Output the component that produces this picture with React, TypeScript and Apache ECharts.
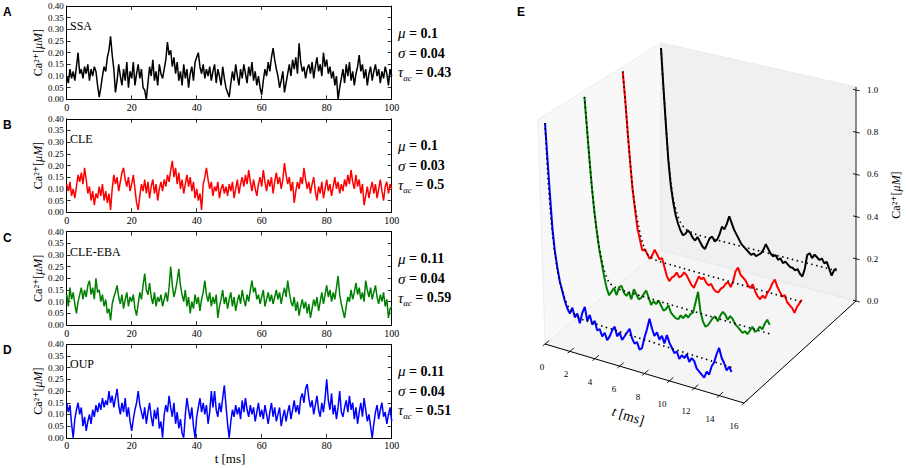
import React, { useEffect, useRef } from "react";
import * as echarts from "echarts";

// ---------- Left panels (A–D): Ca2+ traces, t = 0..100 ms, step 0.5 ms ----------
const T_STEP = 0.5;
const ssa = [
  0.10,0.07,0.13,0.09,0.12,0.08,0.14,0.20,0.11,0.13,
  0.09,0.14,0.11,0.15,0.08,0.13,0.10,0.14,0.12,0.06,
  0.01,0.05,0.10,0.14,0.12,0.18,0.21,0.27,0.19,0.13,
  0.03,0.08,0.15,0.10,0.06,0.13,0.08,0.16,0.05,0.12,
  0.09,0.16,0.06,0.11,0.15,0.09,0.13,0.05,0.04,0.00,
  0.07,0.14,0.10,0.17,0.08,0.12,0.06,0.15,0.11,0.09,
  0.13,0.17,0.245,0.19,0.21,0.14,0.18,0.11,0.16,0.08,
  0.12,0.06,0.15,0.09,0.13,0.05,0.11,0.14,0.08,0.16,
  0.18,0.20,0.14,0.11,0.15,0.09,0.13,0.10,0.14,0.08,
  0.12,0.15,0.07,0.13,0.10,0.06,0.14,0.09,0.05,0.03,
  0.01,0.07,0.12,0.08,0.15,0.10,0.06,0.13,0.09,0.15,
  0.11,0.07,0.14,0.10,0.16,0.08,0.12,0.06,0.10,0.05,
  0.02,0.08,0.13,0.10,0.16,0.12,0.18,0.22,0.17,0.13,
  0.10,0.05,0.08,0.12,0.03,0.07,0.11,0.15,0.10,0.17,
  0.13,0.18,0.11,0.24,0.16,0.12,0.14,0.09,0.13,0.15,
  0.11,0.16,0.09,0.14,0.18,0.12,0.15,0.10,0.20,0.14,
  0.17,0.11,0.14,0.09,0.12,0.06,0.10,0.00,0.05,0.09,
  0.13,0.07,0.15,0.10,0.16,0.08,0.12,0.06,0.11,0.14,
  0.19,0.12,0.15,0.09,0.13,0.06,0.11,0.14,0.08,0.12,
  0.15,0.10,0.13,0.07,0.12,0.09,0.14,0.11,0.06,0.13,
  0.10,
];
const cle = [
  0.12,0.09,0.13,0.07,0.10,0.06,0.11,0.16,0.13,0.17,
  0.12,0.19,0.14,0.08,0.11,0.05,0.09,0.03,0.08,0.06,
  0.11,0.07,0.12,0.05,0.09,0.04,0.08,0.01,0.10,0.16,
  0.12,0.15,0.09,0.13,0.17,0.19,0.14,0.11,0.15,0.09,
  0.12,0.16,0.10,0.04,0.01,0.07,0.12,0.09,0.14,0.08,
  0.13,0.06,0.11,0.14,0.08,0.12,0.05,0.10,0.13,0.09,
  0.14,0.11,0.16,0.13,0.18,0.22,0.15,0.19,0.12,0.17,
  0.10,0.14,0.08,0.12,0.16,0.11,0.15,0.09,0.13,0.06,
  0.10,0.05,0.08,0.01,0.12,0.15,0.19,0.14,0.10,0.13,
  0.07,0.11,0.09,0.13,0.06,0.10,0.12,0.08,0.11,0.07,
  0.12,0.09,0.13,0.06,0.10,0.14,0.08,0.12,0.15,0.11,
  0.16,0.12,0.18,0.13,0.09,0.14,0.10,0.07,0.12,0.15,
  0.11,0.18,0.13,0.09,0.14,0.11,0.15,0.08,0.13,0.17,
  0.12,0.15,0.10,0.14,0.21,0.16,0.12,0.15,0.09,0.13,
  0.04,0.09,0.13,0.10,0.15,0.12,0.19,0.14,0.10,0.13,
  0.08,0.12,0.15,0.09,0.05,0.11,0.08,0.13,0.06,0.10,
  0.14,0.09,0.12,0.07,0.11,0.15,0.10,0.13,0.08,0.12,
  0.09,0.14,0.11,0.16,0.12,0.18,0.13,0.10,0.16,0.11,
  0.14,0.08,0.12,0.03,0.07,0.11,0.06,0.10,0.13,0.08,
  0.12,0.06,0.10,0.14,0.09,0.05,0.11,0.13,0.08,0.12,
  0.10,
];
const cleEba = [
  0.13,0.08,0.16,0.11,0.14,0.09,0.05,0.10,0.13,0.16,
  0.11,0.15,0.12,0.17,0.19,0.13,0.16,0.11,0.20,0.14,
  0.15,0.10,0.13,0.08,0.11,0.05,0.07,0.02,0.09,0.12,
  0.14,0.17,0.12,0.09,0.13,0.07,0.11,0.14,0.08,0.12,
  0.10,0.13,0.07,0.04,0.09,0.14,0.11,0.17,0.22,0.15,
  0.13,0.18,0.12,0.09,0.14,0.08,0.12,0.10,0.13,0.08,
  0.11,0.14,0.10,0.16,0.25,0.17,0.12,0.15,0.19,0.24,
  0.17,0.13,0.10,0.15,0.08,0.12,0.05,0.10,0.07,0.13,
  0.09,0.12,0.06,0.11,0.14,0.19,0.13,0.10,0.14,0.08,
  0.12,0.09,0.13,0.03,0.08,0.11,0.15,0.09,0.12,0.07,
  0.11,0.14,0.08,0.12,0.06,0.10,0.13,0.09,0.15,0.11,
  0.08,0.13,0.10,0.15,0.19,0.14,0.16,0.11,0.13,0.09,
  0.12,0.15,0.08,0.11,0.14,0.10,0.13,0.09,0.12,0.15,
  0.11,0.14,0.09,0.13,0.16,0.12,0.19,0.14,0.10,0.08,
  0.12,0.06,0.10,0.04,0.08,0.11,0.07,0.10,0.05,0.09,
  0.03,0.07,0.11,0.08,0.12,0.06,0.10,0.14,0.09,0.13,
  0.17,0.12,0.15,0.10,0.14,0.11,0.16,0.21,0.13,0.09,
  0.06,0.03,0.08,0.12,0.10,0.15,0.11,0.14,0.18,0.13,
  0.16,0.11,0.14,0.10,0.19,0.15,0.12,0.16,0.11,0.14,
  0.17,0.12,0.09,0.13,0.10,0.14,0.08,0.11,0.03,0.07,
  0.08,
];
const oup = [
  0.15,0.11,0.14,0.06,0.00,0.08,0.12,0.15,0.10,0.13,
  0.05,0.09,0.03,0.07,0.10,0.06,0.12,0.09,0.14,0.11,
  0.15,0.12,0.17,0.13,0.16,0.14,0.20,0.15,0.18,0.13,
  0.17,0.21,0.14,0.10,0.15,0.11,0.17,0.09,0.13,0.07,
  0.03,0.08,0.12,0.15,0.20,0.14,0.11,0.08,0.13,0.06,
  0.11,0.15,0.09,0.05,0.12,0.08,0.13,0.04,0.07,0.00,
  0.10,0.14,0.11,0.18,0.13,0.09,0.15,0.06,0.11,0.04,
  0.08,0.02,0.00,0.10,0.17,0.12,0.08,0.13,0.05,0.00,
  0.09,0.13,0.17,0.11,0.15,0.10,0.14,0.06,0.11,0.20,
  0.13,0.20,0.12,0.09,0.15,0.11,0.17,0.225,0.14,0.06,
  0.00,0.07,0.12,0.09,0.14,0.10,0.13,0.08,0.16,0.11,
  0.17,0.12,0.09,0.14,0.10,0.13,0.07,0.11,0.15,0.09,
  0.12,0.08,0.14,0.10,0.06,0.11,0.15,0.09,0.13,0.07,
  0.10,0.13,0.05,0.09,0.12,0.07,0.11,0.14,0.08,0.12,
  0.16,0.11,0.14,0.10,0.17,0.19,0.15,0.21,0.23,0.17,
  0.13,0.16,0.10,0.14,0.18,0.12,0.09,0.15,0.11,0.17,
  0.25,0.16,0.12,0.19,0.10,0.14,0.08,0.13,0.20,0.11,
  0.09,0.13,0.16,0.11,0.18,0.12,0.15,0.08,0.13,0.06,
  0.11,0.15,0.09,0.17,0.12,0.07,0.10,0.05,0.00,0.06,
  0.11,0.14,0.08,0.12,0.15,0.09,0.11,0.06,0.10,0.13,
  0.07,
];

const panelLetters = ["A", "B", "C", "D"];
const modelNames = ["SSA", "CLE", "CLE-EBA", "OUP"];
const lineColors = ["#000000", "#ff0000", "#008000", "#0000ff"];
const muVals = ["0.1", "0.1", "0.11", "0.11"];
const sigmaVals = ["0.04", "0.03", "0.04", "0.04"];
const tauVals = ["0.43", "0.5", "0.59", "0.51"];
const leftSeries = [ssa, cle, cleEba, oup];

// ---------- Panel E: 3D view, t = 0..~15 ms, step 0.2 ms ----------
const T3_STEP = 0.2;
const blue3d = [
  1.00,0.84,0.68,0.53,0.43,0.36,0.30,0.26,0.22,0.19,
  0.17,0.20,0.16,0.18,0.14,0.19,0.22,0.16,0.19,0.15,
  0.17,0.13,0.14,0.11,0.13,0.10,0.12,0.15,0.17,0.13,
  0.15,0.12,0.14,0.16,0.18,0.14,0.12,0.13,0.10,0.11,
  0.16,0.20,0.25,0.21,0.18,0.20,0.17,0.19,0.16,0.20,
  0.17,0.15,0.13,0.14,0.11,0.13,0.12,0.14,0.11,0.13,
  0.12,0.09,0.08,0.07,0.06,0.09,0.08,0.12,0.14,0.18,
  0.21,0.17,0.15,0.12,0.14,0.12,
];
const green3d = [
  1.00,0.86,0.72,0.59,0.48,0.39,0.31,0.25,0.19,0.14,
  0.11,0.13,0.15,0.12,0.16,0.17,0.14,0.13,0.15,0.12,
  0.17,0.15,0.13,0.14,0.16,0.18,0.15,0.12,0.14,0.13,
  0.15,0.13,0.11,0.12,0.14,0.11,0.10,0.09,0.09,0.11,
  0.10,0.12,0.11,0.13,0.14,0.19,0.24,0.15,0.11,0.09,
  0.10,0.12,0.14,0.15,0.13,0.16,0.18,0.17,0.15,0.17,
  0.16,0.14,0.13,0.12,0.11,0.12,0.11,0.13,0.15,0.13,
  0.14,0.16,0.15,0.18,0.20,0.18,
];
const red3d = [
  1.00,0.87,0.72,0.58,0.45,0.36,0.27,0.22,0.17,0.18,
  0.16,0.14,0.16,0.19,0.17,0.15,0.16,0.12,0.08,0.06,
  0.08,0.09,0.11,0.09,0.10,0.12,0.11,0.09,0.07,0.06,
  0.09,0.12,0.11,0.12,0.10,0.09,0.10,0.08,0.07,0.07,
  0.09,0.10,0.12,0.13,0.11,0.14,0.19,0.21,0.18,0.17,
  0.16,0.14,0.13,0.15,0.12,0.10,0.09,0.11,0.10,0.13,
  0.15,0.18,0.20,0.17,0.15,0.13,0.14,0.11,0.10,0.09,
  0.07,0.10,0.12,0.14,
];
const black3d = [
  0.99,0.80,0.62,0.45,0.33,0.25,0.19,0.15,0.12,0.10,
  0.11,0.13,0.12,0.10,0.09,0.11,0.09,0.07,0.06,0.09,
  0.12,0.13,0.11,0.12,0.15,0.19,0.18,0.21,0.25,0.22,
  0.19,0.17,0.15,0.13,0.12,0.11,0.10,0.09,0.10,0.09,
  0.10,0.11,0.13,0.16,0.14,0.12,0.11,0.12,0.10,0.11,
  0.09,0.10,0.09,0.08,0.08,0.07,0.08,0.06,0.05,0.09,
  0.16,0.17,0.15,0.17,0.16,0.15,0.16,0.14,0.15,0.12,
  0.09,0.12,0.13,
];
// fitted curves (dotted)
const fitTimes = [0, 0.2, 0.4, 0.6, 0.8, 1.0, 1.3, 1.6, 2.0, 2.5, 3.0];
const fitEnd = [15.0, 15.0, 14.6, 14.4];
const blueFit = [1.0, 0.79, 0.63, 0.51, 0.42, 0.35, 0.28, 0.23, 0.19, 0.17, 0.16, 0.14];
const greenFit = [1.0, 0.86, 0.72, 0.59, 0.48, 0.39, 0.29, 0.22, 0.17, 0.155, 0.15, 0.14];
const redFit = [1.0, 0.87, 0.72, 0.58, 0.46, 0.37, 0.28, 0.21, 0.16, 0.145, 0.14, 0.13];
const blackFit = [0.99, 0.80, 0.62, 0.46, 0.35, 0.27, 0.20, 0.16, 0.135, 0.125, 0.12, 0.12];

const traces3d = [blue3d, green3d, red3d, black3d];
const fits3d = [blueFit, greenFit, redFit, blackFit];
const depths3d = [0, 0.34, 0.67, 1.0];
const colors3d = ["#0000ff", "#008000", "#ff0000", "#000000"];
const tTicks3d = [0, 2, 4, 6, 8, 10, 12, 14, 16];
const zTicks3d = [0, 0.2, 0.4, 0.6, 0.8, 1.0];

// ---------- layout ----------
const SERIF = '"Liberation Serif", "DejaVu Serif", serif';
const SANS = '"Liberation Sans", Arial, sans-serif';
const GRID_LEFT = 66.7;
const GRID_W = 325;
const GRID_H = 93.4;
const GRID_TOPS = [6, 118.8, 231.6, 344.4];

// 3D projection (t in ms, z in µM, d = depth 0 front .. 1 back) -> canvas px
const T_MAX = 16;
const Z_TOP = 1.015;
function proj(t: number, z: number, d: number, lean = 0): [number, number] {
  const u = t / T_MAX;
  const x = 545 + 199 * u + d * (116 - 4 * u) - lean * z * (1 - d) * (1 - u);
  const yb = 344 + 59 * u - d * (94 + 8 * u);
  const zs = 221 + 7 * u - 17 * d;
  return [x, yb - z * zs];
}

function buildOption() {
  const grids: any[] = [];
  const xAxes: any[] = [];
  const yAxes: any[] = [];
  const series: any[] = [];
  const graphic: any[] = [];

  const axisLine = { show: true, onZero: false, lineStyle: { color: "#000", width: 1 } };
  const tick = { show: true, inside: true, length: 4, lineStyle: { color: "#000", width: 0.8 } };

  const statRich = {
    i: { fontFamily: SERIF, fontStyle: "italic", fontSize: 15, lineHeight: 20, fill: "#000" },
    b: { fontFamily: SERIF, fontWeight: "bold", fontSize: 14, lineHeight: 20, fill: "#000" },
    s: { fontFamily: SERIF, fontStyle: "italic", fontSize: 9, lineHeight: 20, verticalAlign: "bottom", fill: "#000" },
  };

  for (let i = 0; i < 4; i++) {
    const top = GRID_TOPS[i];
    grids.push({ left: GRID_LEFT, top, width: GRID_W, height: GRID_H, containLabel: false });
    xAxes.push({
      gridIndex: i, type: "value", min: 0, max: 100, interval: 20,
      axisLine, axisTick: tick, splitLine: { show: false },
      axisLabel: { fontFamily: SERIF, fontSize: 10, color: "#000", margin: 3 },
    });
    xAxes.push({
      gridIndex: i, type: "value", position: "top", min: 0, max: 100, interval: 20,
      axisLine, axisTick: tick, splitLine: { show: false }, axisLabel: { show: false },
    });
    yAxes.push({
      gridIndex: i, type: "value", min: 0, max: 0.4, interval: 0.05,
      axisLine, axisTick: tick, splitLine: { show: false },
      axisLabel: { fontFamily: SERIF, fontSize: 9, color: "#000", margin: 3, formatter: (v: number) => v.toFixed(2) },
      name: "Ca²⁺[{i|μM}]", nameLocation: "middle", nameGap: 23, nameRotate: 90,
      nameTextStyle: {
        fontFamily: SERIF, fontSize: 12, color: "#000",
        rich: { i: { fontFamily: SERIF, fontStyle: "italic", fontSize: 12, color: "#000" } },
      },
    });
    yAxes.push({
      gridIndex: i, type: "value", position: "right", min: 0, max: 0.4, interval: 0.05,
      axisLine, axisTick: tick, splitLine: { show: false }, axisLabel: { show: false },
    });
    series.push({
      type: "line", xAxisIndex: 2 * i, yAxisIndex: 2 * i,
      data: leftSeries[i].map((v, k) => [k * T_STEP, v]),
      showSymbol: false, symbol: "none", clip: true,
      lineStyle: { color: lineColors[i], width: 1.5 },
    });

    graphic.push({
      type: "text", x: 3, y: top + 6,
      style: { text: panelLetters[i], font: `bold 12px ${SANS}`, fill: "#000", verticalAlign: "middle" },
    });
    graphic.push({
      type: "text", x: 70, y: top + 20,
      style: { text: modelNames[i], font: `12px ${SERIF}`, fill: "#000", verticalAlign: "middle" },
    });
    graphic.push({
      type: "text", x: 398, y: top + 27,
      style: { text: `{i|μ}{b| = ${muVals[i]}}`, rich: statRich, verticalAlign: "middle" },
    });
    graphic.push({
      type: "text", x: 398, y: top + 47,
      style: { text: `{i|σ}{b| = ${sigmaVals[i]}}`, rich: statRich, verticalAlign: "middle" },
    });
    graphic.push({
      type: "text", x: 398, y: top + 66,
      style: { text: `{i|τ}{s|ac}{b| = ${tauVals[i]}}`, rich: statRich, verticalAlign: "middle" },
    });
  }

  graphic.push({
    type: "text", x: 230, y: 458,
    style: { text: "t [ms]", font: `13px ${SERIF}`, fill: "#000", align: "center", verticalAlign: "middle" },
  });

  // ---- Panel E ----
  grids.push({ left: 0, top: 0, width: 906, height: 468, containLabel: false });
  xAxes.push({ gridIndex: 4, type: "value", min: 0, max: 906, show: false });
  yAxes.push({ gridIndex: 4, type: "value", min: 0, max: 468, inverse: true, show: false });

  graphic.push({
    type: "text", x: 517, y: 12,
    style: { text: "E", font: `bold 12px ${SANS}`, fill: "#000", verticalAlign: "middle" },
  });

  // panes (front-left pane edge leans slightly left at the top)
  const L = 7;
  const floor = [proj(0, 0, 0), proj(T_MAX, 0, 0), proj(T_MAX, 0, 1), proj(0, 0, 1)];
  const leftPane = [proj(0, 0, 0), proj(0, 0, 1), proj(0, Z_TOP, 1, L), proj(0, Z_TOP, 0, L)];
  const backPane = [proj(0, 0, 1), proj(T_MAX, 0, 1), proj(T_MAX, Z_TOP, 1), proj(0, Z_TOP, 1)];
  graphic.push({ type: "polygon", z: 0, shape: { points: floor }, style: { fill: "#f5f5f5", stroke: "#e9e9e9", lineWidth: 0.8 } });
  graphic.push({ type: "polygon", z: 0, shape: { points: leftPane }, style: { fill: "#f8f8f8", stroke: "#e9e9e9", lineWidth: 0.8 } });
  graphic.push({ type: "polygon", z: 0, shape: { points: backPane }, style: { fill: "#f0f0f0", stroke: "#e6e6e6", lineWidth: 0.8 } });

  // axis lines
  const line = (a: [number, number], b: [number, number], w = 1, color = "#000") => ({
    type: "line", z: 1,
    shape: { x1: a[0], y1: a[1], x2: b[0], y2: b[1] },
    style: { stroke: color, lineWidth: w },
  });
  graphic.push(line(proj(0, 0, 0), proj(T_MAX, 0, 0)));
  graphic.push(line(proj(T_MAX, 0, 0), proj(T_MAX, 0, 1)));
  graphic.push(line(proj(T_MAX, 0, 1), proj(T_MAX, Z_TOP, 1), 1, "#222"));

  tTicks3d.forEach((t) => {
    graphic.push(line(proj(t, 0, -0.02), proj(t, 0, 0.035), 0.9));
    const p = proj(t, 0, 0);
    const u = t / T_MAX;
    graphic.push({
      type: "text", x: p[0] - 3 - 7 * u, y: p[1] + 23,
      style: { text: String(t), font: `9px ${SERIF}`, fill: "#000", align: "center", verticalAlign: "middle" },
    });
  });
  zTicks3d.forEach((z) => {
    graphic.push(line(proj(T_MAX - 0.25, z, 1), proj(T_MAX + 0.3, z, 1), 0.9));
    const p = proj(T_MAX, z, 1);
    graphic.push({
      type: "text", x: p[0] + 11, y: p[1],
      style: { text: z.toFixed(1), font: `9px ${SERIF}`, fill: "#000", align: "left", verticalAlign: "middle" },
    });
  });
  graphic.push({
    type: "text", x: 628, y: 416, rotation: -0.31,
    style: {
      text: "{i|t} [ms]", align: "center", verticalAlign: "middle",
      rich: {
        i: { fontFamily: SERIF, fontStyle: "italic", fontSize: 14, fill: "#000" },
      },
      font: `14px ${SERIF}`, fill: "#000",
    },
  });
  graphic.push({
    type: "text", x: 896, y: 195, rotation: Math.PI / 2,
    style: {
      text: "Ca²⁺[{i|μM}]", align: "center", verticalAlign: "middle",
      font: `12px ${SERIF}`, fill: "#000",
      rich: { i: { fontFamily: SERIF, fontStyle: "italic", fontSize: 12, fill: "#000" } },
    },
  });

  // traces back to front
  for (let k = 3; k >= 0; k--) {
    const d = depths3d[k];
    series.push({
      type: "line", xAxisIndex: 8, yAxisIndex: 8,
      data: traces3d[k].map((z, i) => proj(i * T3_STEP, z, d)),
      showSymbol: false, symbol: "none", clip: false, z: 3,
      lineStyle: { color: colors3d[k], width: 2 },
    });
    const times = [...fitTimes, fitEnd[k]];
    series.push({
      type: "line", xAxisIndex: 8, yAxisIndex: 8,
      data: fits3d[k].map((z, i) => proj(times[i], z, d)),
      showSymbol: false, symbol: "none", clip: false, z: 4, smooth: 0.3,
      lineStyle: { color: "#000", width: 1.6, type: [1.5, 3.5] },
    });
  }

  return {
    animation: false,
    backgroundColor: "#ffffff",
    grid: grids,
    xAxis: xAxes,
    yAxis: yAxes,
    series,
    graphic,
  };
}

export default function App() {
  const ref = useRef<HTMLDivElement>(null);
  useEffect(() => {
    if (!ref.current) return;
    const chart = echarts.init(ref.current, undefined, { renderer: "svg" });
    chart.setOption(buildOption() as any);
    return () => chart.dispose();
  }, []);
  return (
    <div
      ref={ref}
      style={{ position: "fixed", left: 0, top: 0, width: 906, height: 468, background: "#fff" }}
    />
  );
}
